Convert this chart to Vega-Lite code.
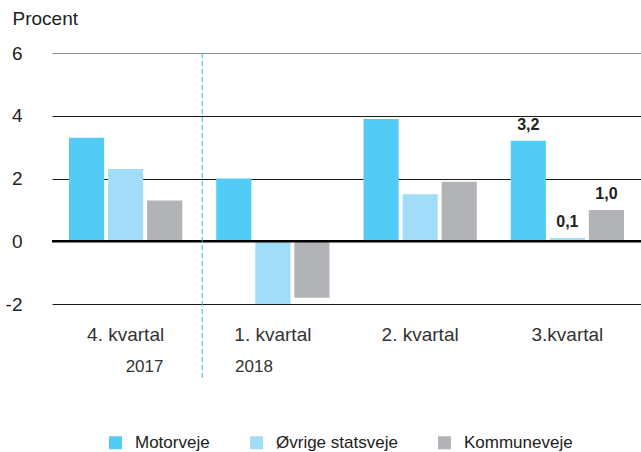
{
  "$schema": "https://vega.github.io/schema/vega-lite/v6.json",
  "width": 589,
  "height": 251,
  "autosize": {"type": "none"},
  "padding": {"left": 52, "top": 53, "right": 0, "bottom": 148},
  "background": "white",
  "config": {"view": {"stroke": null}, "font": "Liberation Sans"},
  "datasets": {
    "bars": [
      {"quarter": "4. kvartal", "series": "Motorveje", "value": 3.3, "label": null},
      {"quarter": "4. kvartal", "series": "Øvrige statsveje", "value": 2.3, "label": null},
      {"quarter": "4. kvartal", "series": "Kommuneveje", "value": 1.3, "label": null},
      {"quarter": "1. kvartal", "series": "Motorveje", "value": 2.0, "label": null},
      {"quarter": "1. kvartal", "series": "Øvrige statsveje", "value": -2.0, "label": null},
      {"quarter": "1. kvartal", "series": "Kommuneveje", "value": -1.8, "label": null},
      {"quarter": "2. kvartal", "series": "Motorveje", "value": 3.9, "label": null},
      {"quarter": "2. kvartal", "series": "Øvrige statsveje", "value": 1.5, "label": null},
      {"quarter": "2. kvartal", "series": "Kommuneveje", "value": 1.9, "label": null},
      {"quarter": "3.kvartal", "series": "Motorveje", "value": 3.2, "label": "3,2"},
      {"quarter": "3.kvartal", "series": "Øvrige statsveje", "value": 0.1, "label": "0,1"},
      {"quarter": "3.kvartal", "series": "Kommuneveje", "value": 1.0, "label": "1,0"}
    ],
    "zero": [{"value": 0}],
    "divider": [{"quarter": "4. kvartal", "value": 6, "value2": -4.35}],
    "y2017": [{"quarter": "4. kvartal", "value": -4, "year": "2017"}],
    "y2018": [{"quarter": "1. kvartal", "value": -4, "year": "2018"}]
  },
  "layer": [
    {
      "data": {"name": "bars"},
      "mark": {"type": "bar"},
      "encoding": {
        "x": {
          "field": "quarter", "type": "nominal",
          "scale": {"domain": ["4. kvartal", "1. kvartal", "2. kvartal", "3.kvartal"], "paddingInner": 0, "paddingOuter": 0},
          "axis": {"title": null, "labelAngle": 0, "domain": false, "ticks": false, "grid": false, "labelPadding": 21, "labelFontSize": 19, "labelColor": "#333333"}
        },
        "xOffset": {
          "field": "series", "type": "nominal",
          "scale": {"domain": ["Motorveje", "Øvrige statsveje", "Kommuneveje"], "paddingInner": 0.1, "paddingOuter": 0.435}
        },
        "y": {
          "field": "value", "type": "quantitative",
          "scale": {"domain": [-2, 6], "nice": false, "zero": false},
          "axis": {
            "values": [-2, 0, 2, 4, 6],
            "labelExpr": "'' + datum.value",
            "domain": false, "ticks": false, "labelPadding": 30, "labelFontSize": 19, "labelColor": "#222222",
            "grid": true, "gridWidth": 1,
            "gridColor": {"condition": {"test": "datum.value === 6", "value": "#8c8c8c"}, "value": "#1a1a1a"},
            "title": "Procent", "titleAngle": 0, "titleAlign": "left", "titleBaseline": "middle",
            "titleX": -40, "titleY": -35, "titleFontSize": 19, "titleFontWeight": "normal", "titleColor": "#222222"
          }
        },
        "color": {
          "field": "series", "type": "nominal",
          "scale": {"domain": ["Motorveje", "Øvrige statsveje", "Kommuneveje"], "range": ["#52cbf5", "#a2ddf8", "#b2b3b7"]},
          "legend": {
            "title": null, "orient": "none", "direction": "horizontal", "legendX": 55, "legendY": 381,
            "symbolType": "square", "symbolSize": 169, "symbolStrokeWidth": 0, "symbolOpacity": 1,
            "labelFontSize": 17, "labelColor": "#222222", "labelOffset": 11, "columnPadding": 38
          }
        }
      }
    },
    {
      "data": {"name": "bars"},
      "transform": [{"filter": "datum.label != null"}],
      "mark": {"type": "text", "baseline": "bottom", "dy": -8, "fontSize": 16, "fontWeight": "bold", "color": "#222222"},
      "encoding": {
        "x": {"field": "quarter", "type": "nominal"},
        "xOffset": {"field": "series", "type": "nominal"},
        "y": {"field": "value", "type": "quantitative"},
        "text": {"field": "label"}
      }
    },
    {
      "data": {"name": "zero"},
      "mark": {"type": "rule", "color": "#000000", "strokeWidth": 2.5},
      "encoding": {"y": {"field": "value", "type": "quantitative"}}
    },
    {
      "data": {"name": "divider"},
      "mark": {"type": "rule", "color": "#29b5e8", "strokeWidth": 1, "strokeDash": [5, 3]},
      "encoding": {
        "x": {"field": "quarter", "type": "nominal", "bandPosition": 1.02},
        "y": {"field": "value", "type": "quantitative"},
        "y2": {"field": "value2"}
      }
    },
    {
      "data": {"name": "y2017"},
      "mark": {"type": "text", "align": "left", "baseline": "middle", "fontSize": 17, "color": "#333333"},
      "encoding": {
        "x": {"field": "quarter", "type": "nominal"},
        "y": {"field": "value", "type": "quantitative"},
        "text": {"field": "year"}
      }
    },
    {
      "data": {"name": "y2018"},
      "mark": {"type": "text", "align": "right", "baseline": "middle", "fontSize": 17, "color": "#333333"},
      "encoding": {
        "x": {"field": "quarter", "type": "nominal"},
        "y": {"field": "value", "type": "quantitative"},
        "text": {"field": "year"}
      }
    }
  ]
}
